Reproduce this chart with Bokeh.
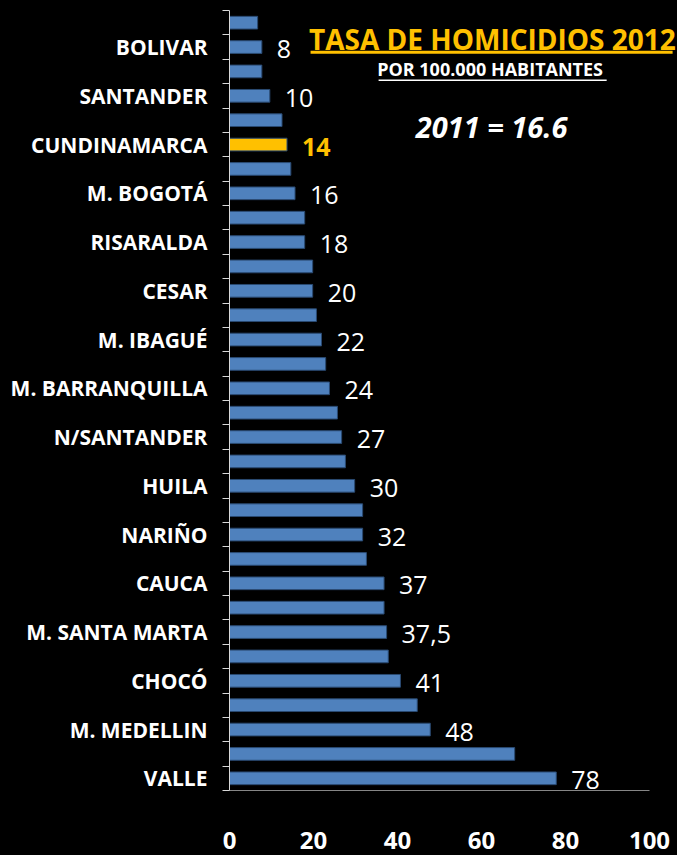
from bokeh.plotting import figure
from bokeh.models import Range1d, FixedTicker, ColumnDataSource, Label, BoxAnnotation
from bokeh.core.properties import value
from bokeh.embed import file_html
from bokeh.resources import INLINE

# ---- data (top to bottom) ----
departments = ["BOLIVAR", "SANTANDER", "CUNDINAMARCA", "M. BOGOTÁ", "RISARALDA", "CESAR",
               "M. IBAGUÉ", "M. BARRANQUILLA", "N/SANTANDER", "HUILA", "NARIÑO", "CAUCA",
               "M. SANTA MARTA", "CHOCÓ", "M. MEDELLIN", "VALLE"]
rates = [7.7, 9.6, 13.7, 15.6, 17.9, 19.8, 21.9, 23.8, 26.7, 29.8, 31.7, 36.8, 37.4, 40.7, 47.8, 77.8]
rate_labels = ["8", "10", "14", "16", "18", "20", "22", "24", "27", "30", "32", "37", "37,5", "41", "48", "78"]
# unlabeled bars that sit just above each labeled one
other_rates = [6.7, 7.7, 12.5, 14.6, 17.9, 19.8, 20.7, 22.9, 25.7, 27.6, 31.7, 32.6, 36.8, 37.8, 44.7, 67.9]
highlight = "CUNDINAMARCA"
x_ticks = [0, 20, 40, 60, 80, 100]

BLUE = "#4F81BD"
YELLOW = "#FFC000"
FONT = "Open Sans"

ys, vals, colors = [], [], []
lab_y, lab_color, lab_style = [], [], []
for i, name in enumerate(departments):
    ys += [2 * i, 2 * i + 1]
    vals += [other_rates[i], rates[i]]
    c = YELLOW if name == highlight else BLUE
    colors += [BLUE, c]
    lab_y.append(2 * i + 1)
    lab_color.append(YELLOW if name == highlight else "white")
    lab_style.append("bold" if name == highlight else "normal")

n = len(ys)
bars = ColumnDataSource(dict(y=ys, right=vals, color=colors))
labels = ColumnDataSource(dict(x=rates, y=lab_y, text=rate_labels, color=lab_color, style=lab_style))

# frame spans from the y axis (x=229px) to the right edge; 100 units = 420px
x_end = 448 / 4.2
p = figure(width=677, height=855, x_range=Range1d(0, x_end), y_range=Range1d(n - 0.5, -0.5),
           output_backend="svg", toolbar_location=None,
           min_border_left=229, min_border_right=0, min_border_top=10, min_border_bottom=65,
           background_fill_color="black", border_fill_color="black", outline_line_color=None)

p.hbar(y="y", left=0, right="right", height=0.52, fill_color="color", line_color="#2A4A72",
       line_width=1, source=bars)
p.text(x="x", y="y", text="text", source=labels, text_color="color", text_font_style="style",
       text_font=value(FONT), text_font_size="25px", text_baseline="middle",
       x_offset=15, y_offset=2)

p.xgrid.visible = False
p.ygrid.visible = False

# x axis
p.xaxis.ticker = FixedTicker(ticks=x_ticks)
p.xaxis.bounds = (0, 100)
p.xaxis.major_tick_line_color = None
p.xaxis.minor_tick_line_color = None
p.xaxis.axis_line_color = "#868686"
p.xaxis.major_label_text_color = "white"
p.xaxis.major_label_text_font = FONT
p.xaxis.major_label_text_font_style = "bold"
p.xaxis.major_label_text_font_size = "24px"
p.xaxis.major_label_standoff = 35

# y axis
p.yaxis.ticker = FixedTicker(ticks=lab_y, minor_ticks=[k - 0.5 for k in range(n + 1)])
p.yaxis.major_label_overrides = {y: name for y, name in zip(lab_y, departments)}
p.yaxis.major_tick_line_color = None
p.yaxis.major_tick_out = 0
p.yaxis.major_tick_in = 0
p.yaxis.minor_tick_line_color = "#D9D9D9"
p.yaxis.minor_tick_out = 7
p.yaxis.minor_tick_in = 0
p.yaxis.axis_line_color = "#D9D9D9"
p.yaxis.major_label_text_color = "white"
p.yaxis.major_label_text_font = FONT
p.yaxis.major_label_text_font_style = "bold"
p.yaxis.major_label_text_font_size = "21px"
p.yaxis.major_label_standoff = 15

# title block
p.add_layout(Label(x=62.6, y=0.66, text="TASA DE HOMICIDIOS 2012", text_align="center",
                   text_baseline="alphabetic", text_font=FONT, text_font_size="28px",
                   text_font_style="bold", text_color=YELLOW))
p.add_layout(BoxAnnotation(left=19.3, right=105.5, top=1.15, bottom=1.27, fill_color=YELLOW,
                           fill_alpha=1, line_color=None))
p.add_layout(Label(x=62.6, y=1.92, text="POR 100.000  HABITANTES", text_align="center",
                   text_baseline="alphabetic", text_font=FONT, text_font_size="18px",
                   text_font_style="bold", text_color="white"))
p.add_layout(BoxAnnotation(left=35.5, right=89.8, top=2.33, bottom=2.39, fill_color="white",
                           fill_alpha=1, line_color=None))
p.add_layout(Label(x=62.4, y=4.26, text="2011 = 16.6", text_align="center",
                   text_baseline="alphabetic", text_font=FONT, text_font_size="29px",
                   text_font_style="bold italic", text_color="white"))

html = file_html(p, INLINE, title="Tasa de homicidios 2012")
html = html.replace("</head>", "<style>html,body{margin:0;padding:0;background:#000;}</style></head>", 1)
open("out.html", "w").write(html)
